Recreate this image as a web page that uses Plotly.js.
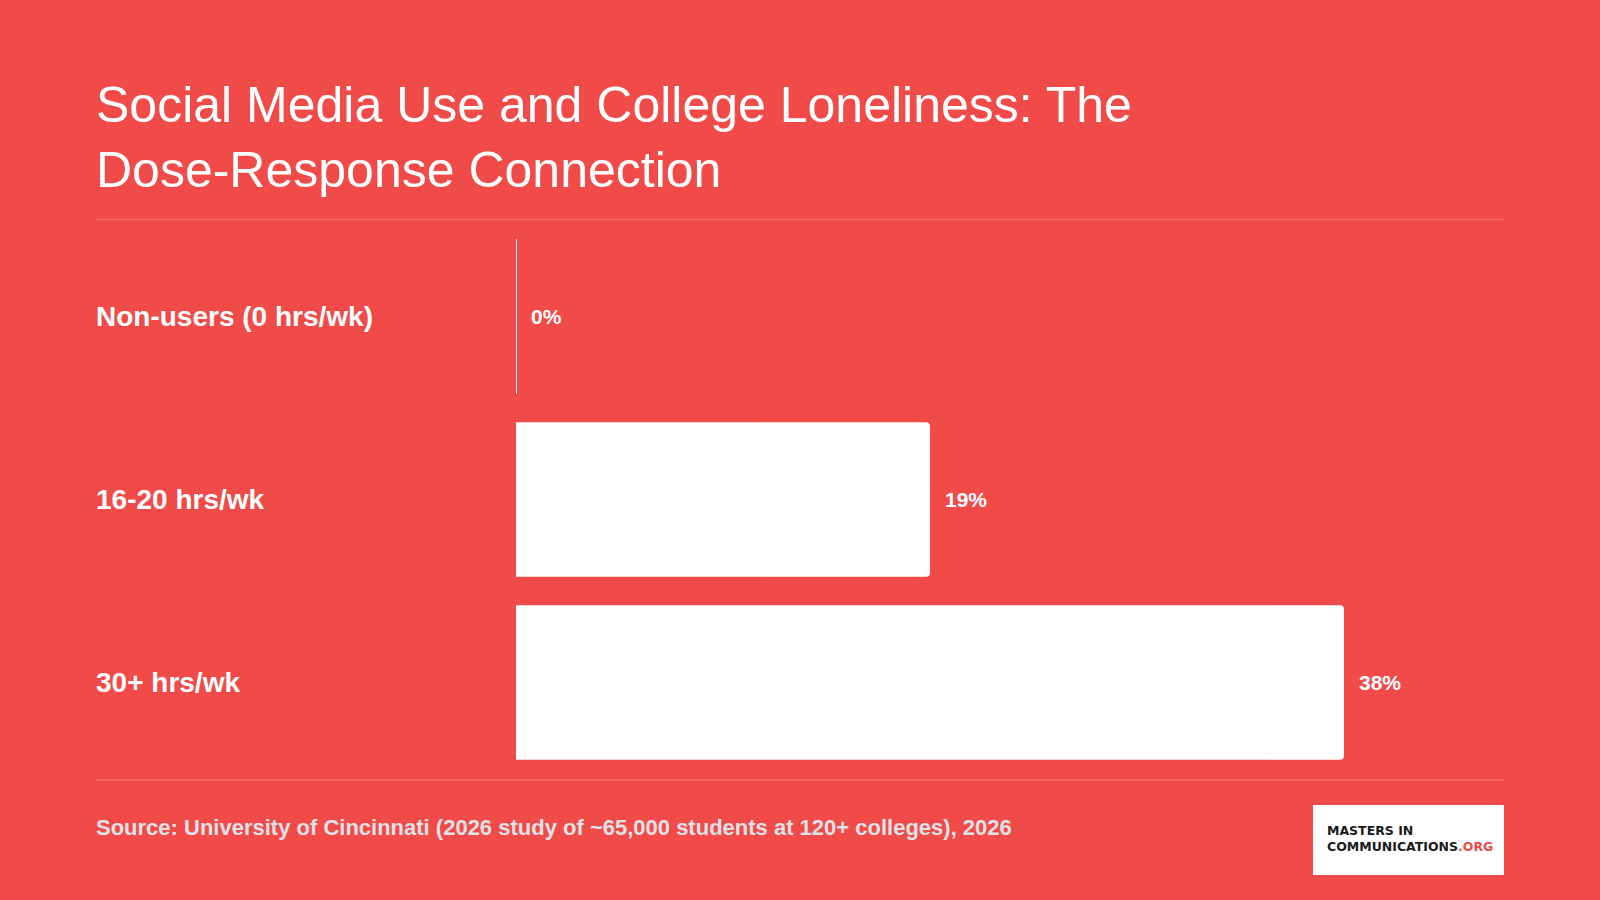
<!DOCTYPE html>
<html>
<head>
<meta charset="utf-8">
<script src="https://cdn.plot.ly/plotly-3.0.1.min.js"></script>
<style>
  html, body { margin: 0; padding: 0; background: #F04B48; }
  #chart { width: 1600px; height: 900px; }
</style>
</head>
<body>
<div id="chart"></div>
<script>
// ---- Data ----
const categories = ['Non-users (0 hrs/wk)', '16-20 hrs/wk', '30+ hrs/wk'];
const lonelinessPct = [0, 19, 38];
const valueLabels = ['0%', '19%', '38%'];
const titleText = 'Social Media Use and College Loneliness: The<br>Dose-Response Connection';
const sourceText = 'Source: University of Cincinnati (2026 study of ~65,000 students at 120+ colleges), 2026';

// ---- Layout geometry ----
const W = 1600, H = 900;
const M = { l: 516, r: 96, t: 225, b: 126 };
const PW = W - M.l - M.r, PH = H - M.t - M.b;
const px2x = px => (px - M.l) / PW;
const px2y = py => (H - M.b - py) / PH;

const BG = '#F04B48';
const FONT = '"Liberation Sans", Arial, Helvetica, sans-serif';

const trace = {
  type: 'bar',
  orientation: 'h',
  x: lonelinessPct,
  y: categories,
  marker: {
    color: '#ffffff',
    cornerradius: 4,
    line: { color: '#ffffff', width: lonelinessPct.map(v => v === 0 ? 2 : 0) }
  },
  hoverinfo: 'skip',
  showlegend: false
};

const annotations = [];
// category labels (left aligned)
categories.forEach(c => {
  annotations.push({
    xref: 'paper', yref: 'y', x: px2x(94), y: c,
    xanchor: 'left', yanchor: 'middle', showarrow: false,
    text: '<b>' + c + '</b>',
    font: { family: FONT, size: 28, color: '#ffffff' }
  });
});
// value labels
lonelinessPct.forEach((v, i) => {
  annotations.push({
    xref: 'x', yref: 'y', x: v, y: categories[i],
    xanchor: 'left', yanchor: 'middle', xshift: 13, showarrow: false,
    text: '<b>' + valueLabels[i] + '</b>',
    font: { family: FONT, size: 21, color: '#ffffff' }
  });
});
// source
annotations.push({
  xref: 'paper', yref: 'paper', x: px2x(94), y: px2y(827),
  xanchor: 'left', yanchor: 'middle', showarrow: false,
  text: '<b>' + sourceText + '</b>',
  font: { family: FONT, size: 22, color: '#dfe1e6' }
});
// logo text
annotations.push({
  xref: 'paper', yref: 'paper', x: px2x(1325), y: px2y(838.5),
  xanchor: 'left', yanchor: 'middle', showarrow: false, align: 'left',
  text: '<b>MASTERS IN<br>COMMUNICATIONS<span style="color:#F04B48">.ORG</span></b>',
  font: { family: '"DejaVu Sans", sans-serif', size: 12.5, color: '#1a1a1a' }
});

const shapes = [
  { type: 'line', xref: 'paper', yref: 'paper', x0: px2x(96), x1: px2x(1504), y0: px2y(219.5), y1: px2y(219.5),
    line: { color: 'rgba(255,255,255,0.18)', width: 1.5 }, layer: 'below' },
  { type: 'line', xref: 'paper', yref: 'paper', x0: px2x(96), x1: px2x(1504), y0: px2y(780), y1: px2y(780),
    line: { color: 'rgba(255,255,255,0.18)', width: 1.5 }, layer: 'below' },
  { type: 'rect', xref: 'paper', yref: 'paper', x0: px2x(1313), x1: px2x(1504), y0: px2y(805), y1: px2y(875),
    fillcolor: '#ffffff', line: { width: 0 }, layer: 'below' }
];

const layout = {
  width: W, height: H,
  paper_bgcolor: BG, plot_bgcolor: BG,
  margin: M,
  bargap: 0.155,
  title: {
    text: titleText,
    xref: 'container', yref: 'container',
    x: 96 / W, xanchor: 'left',
    y: 1 - 122 / H, yanchor: 'top',
    font: { family: FONT, size: 50, color: '#ffffff' }
  },
  xaxis: {
    range: [0, 38 * 988 / 828],
    showgrid: false, zeroline: false, showticklabels: false, showline: false, fixedrange: true
  },
  yaxis: {
    type: 'category', autorange: 'reversed',
    showgrid: false, zeroline: false, showticklabels: false, showline: false, fixedrange: true
  },
  annotations: annotations,
  shapes: shapes,
  hovermode: false
};

Plotly.newPlot('chart', [trace], layout, { displayModeBar: false, staticPlot: true });
</script>
</body>
</html>
